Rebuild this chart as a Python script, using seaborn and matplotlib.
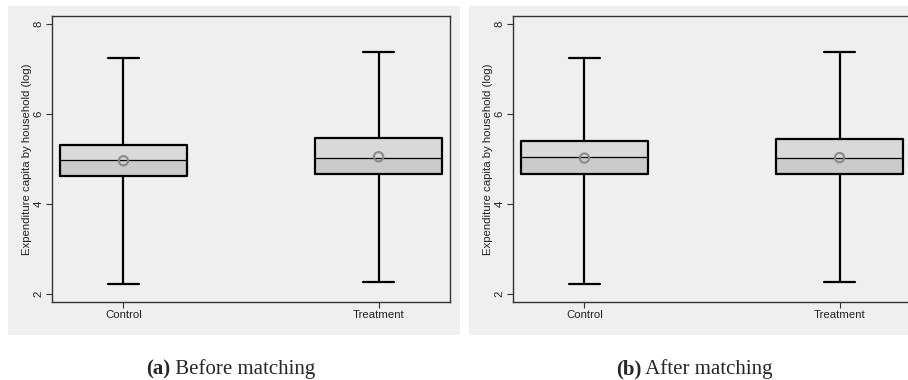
import numpy as np
import pandas as pd
import matplotlib
matplotlib.use("Agg")
import matplotlib.pyplot as plt
from matplotlib.text import Annotation
import seaborn as sns

# ---- data ----
groups = ["Control", "Treatment"]

before_min = [2.23, 2.27]
before_q1 = [4.63, 4.67]
before_med = [4.98, 5.02]
before_q3 = [5.32, 5.46]
before_max = [7.25, 7.38]
before_mean = [4.96, 5.05]

after_min = [2.22, 2.27]
after_q1 = [4.67, 4.67]
after_med = [5.04, 5.02]
after_q3 = [5.41, 5.44]
after_max = [7.24, 7.38]
after_mean = [5.02, 5.03]

y_ticks = [2, 4, 6, 8]
y_label = "Expenditure capita by household (log)"
captions = [("(a)", " Before matching"), ("(b)", " After matching")]

sns.set_theme(style="white")
plt.rcParams["font.family"] = ["Liberation Sans", "DejaVu Sans"]

W, H = 908, 380
fig = plt.figure(figsize=(W / 100, H / 100), dpi=100)
fig.patch.set_facecolor("white")

panel_bg = "#efefef"
light = "#d9d9d9"
dark = "#cbcbcb"


def fx(px):
    return px / W


def fy(py):
    return 1 - py / H


panels = [
    dict(bg=(8, 6, 460, 335), ax=(52, 16, 450, 302),
         stats=(before_min, before_q1, before_med, before_q3, before_max, before_mean),
         cap_x=146),
    dict(bg=(469, 6, 912, 335), ax=(513, 16, 911, 302),
         stats=(after_min, after_q1, after_med, after_q3, after_max, after_mean),
         cap_x=616),
]

serif = ["Liberation Serif", "DejaVu Serif"]

for i, p in enumerate(panels):
    x0, y0, x1, y1 = p["bg"]
    fig.patches.append(plt.Rectangle((fx(x0), fy(y1)), fx(x1 - x0), (y1 - y0) / H,
                                     transform=fig.transFigure, facecolor=panel_bg,
                                     edgecolor="none", zorder=-5))
    a0, b0, a1, b1 = p["ax"]
    ax = fig.add_axes([fx(a0), fy(b1), fx(a1 - a0), (b1 - b0) / H])
    ax.set_facecolor(panel_bg)

    mn, q1, md, q3, mx, mean = p["stats"]
    rows = []
    for g, a, b, c, d, e in zip(groups, mn, q1, md, q3, mx):
        for v in (a, b, c, d, e):
            rows.append({"group": g, "value": v})
    df = pd.DataFrame(rows)

    sns.boxplot(data=df, x="group", y="value", order=groups, ax=ax, width=0.5,
                whis=(0, 100), fill=False, color="black", linewidth=1.6,
                medianprops={"linewidth": 0.9, "color": "black"},
                capwidths=0.12)
    pos = np.arange(len(groups))
    ax.bar(pos, np.array(q3) - np.array(md), bottom=md, width=0.5,
           color=light, edgecolor="none", zorder=1)
    ax.bar(pos, np.array(md) - np.array(q1), bottom=q1, width=0.5,
           color=dark, edgecolor="none", zorder=1)
    ax.scatter(pos, mean, s=45, facecolors="none", edgecolors="#8a8a8a",
               linewidths=1.5, zorder=5)

    ax.set_xlim(-0.28, 1.28)
    ax.set_ylim(1.82, 8.18)
    ax.set_yticks(y_ticks)
    ax.set_yticklabels([str(t) for t in y_ticks], rotation=90, va="center")
    ax.set_xlabel("")
    ax.set_ylabel(y_label, fontsize=8.2, color="#222222", labelpad=1)
    ax.tick_params(axis="both", which="both", direction="out", length=4,
                   width=0.8, color="#333333", labelsize=8.2,
                   left=True, bottom=True, labelcolor="#222222", pad=2)
    for s in ax.spines.values():
        s.set_visible(True)
        s.set_color("#333333")
        s.set_linewidth(1.0)
    ax.grid(False)

    bold, rest = captions[i]
    t = fig.text(fx(p["cap_x"]), fy(374), bold, fontsize=15,
                 fontweight="bold", family=serif, ha="left", va="baseline")
    ann = Annotation(rest, xy=(1, 0), xycoords=t, va="bottom", ha="left",
                     fontsize=15, family=serif, annotation_clip=False)
    fig.add_artist(ann)

fig.savefig("out.png", dpi=100, facecolor="white")
